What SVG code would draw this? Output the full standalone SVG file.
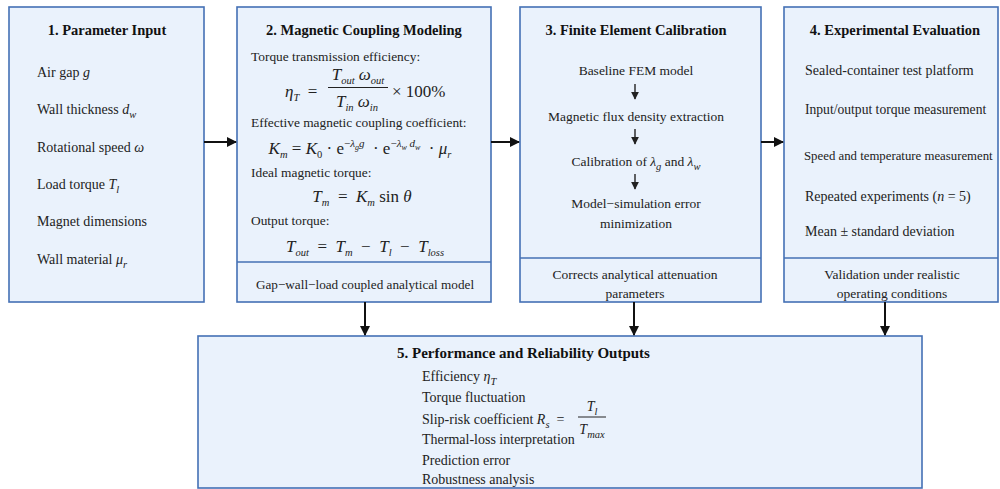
<svg xmlns="http://www.w3.org/2000/svg" width="1000" height="489" viewBox="0 0 1000 489">
<defs>
<marker id="ah" viewBox="0 0 10 10" refX="9" refY="5" markerWidth="10" markerHeight="10" markerUnits="userSpaceOnUse" orient="auto"><path d="M0,0 L10,5 L0,10 z" fill="#111"/></marker>
<marker id="ahs" viewBox="0 0 10 10" refX="9" refY="5" markerWidth="8" markerHeight="8" markerUnits="userSpaceOnUse" orient="auto"><path d="M0,0 L10,5 L0,10 z" fill="#222"/></marker>
<style>
.box{fill:#EAF2FC;stroke:#4470B5;stroke-width:1.6}
.div{stroke:#4470B5;stroke-width:1.4}
text{font-family:"Liberation Serif","Times New Roman",serif;font-size:14px;fill:#222}
.h{font-weight:bold;font-size:14.5px;fill:#111}
.h5{font-weight:bold;font-size:15px;fill:#111}
.b2{font-size:13.4px}
.b3{font-size:13.5px}
.i{font-style:italic}
.sub{font-size:10.5px}
.m{font-size:17px}
.sup{font-size:11px}
.ssub{font-size:8px}
.c{text-anchor:middle}
.con{stroke:#111;stroke-width:2;fill:none}
.sm{stroke:#222;stroke-width:1.4;fill:none}
</style>
</defs>
<g id="node1">
<rect class="box" x="9" y="7" width="195" height="295"/>
<text class="h c" x="107" y="35">1. Parameter Input</text>
<text x="37" y="77">Air gap <tspan class="i">g</tspan></text>
<text x="37" y="114">Wall thickness <tspan class="i">d</tspan><tspan class="i sub" dy="4">w</tspan></text>
<text x="37" y="152">Rotational speed <tspan class="i">ω</tspan></text>
<text x="37" y="189">Load torque <tspan class="i">T</tspan><tspan class="i sub" dy="4">l</tspan></text>
<text x="37" y="226">Magnet dimensions</text>
<text x="37" y="264">Wall material <tspan class="i">μ</tspan><tspan class="i sub" dy="4">r</tspan></text>
</g>
<g id="node2">
<rect class="box" x="237" y="7" width="254" height="295"/>
<line class="div" x1="237" y1="262" x2="491" y2="262"/>
<text class="h c" x="364" y="35">2. Magnetic Coupling Modeling</text>
<text class="b2" x="251" y="61">Torque transmission efficiency:</text>
<text class="m" x="285" y="97" xml:space="preserve"><tspan class="i">η</tspan><tspan class="i sub" dy="4">T</tspan><tspan dy="-4">  =</tspan></text>
<text class="m c" x="358" y="80"><tspan class="i">T</tspan><tspan class="i sub" dy="4">out</tspan><tspan class="i" dy="-4"> ω</tspan><tspan class="i sub" dy="4">out</tspan></text>
<line x1="328" y1="87.5" x2="388" y2="87.5" stroke="#222" stroke-width="1"/>
<text class="m c" x="357" y="107"><tspan class="i">T</tspan><tspan class="i sub" dy="4">in</tspan><tspan class="i" dy="-4"> ω</tspan><tspan class="i sub" dy="4">in</tspan></text>
<text class="m" x="392" y="97">× 100%</text>
<text class="b2" x="251" y="127">Effective magnetic coupling coefficient:</text>
<text class="m c" x="360" y="154" xml:space="preserve"><tspan class="i">K</tspan><tspan class="sub i" dy="4">m</tspan><tspan dy="-4"> = </tspan><tspan class="i">K</tspan><tspan class="sub" dy="4">0</tspan><tspan dy="-4"> · e</tspan><tspan class="sup" dy="-7">−</tspan><tspan class="sup i">λ</tspan><tspan class="ssub i" dy="3">g</tspan><tspan class="sup i" dy="-3">g</tspan><tspan dy="7">  · e</tspan><tspan class="sup" dy="-7">−</tspan><tspan class="sup i">λ</tspan><tspan class="ssub i" dy="3">w</tspan><tspan class="sup i" dy="-3"> d</tspan><tspan class="ssub i" dy="3">w</tspan><tspan dy="4">  · </tspan><tspan class="i">μ</tspan><tspan class="sub i" dy="4">r</tspan></text>
<text class="b2" x="251" y="177">Ideal magnetic torque:</text>
<text class="m c" x="362" y="202" xml:space="preserve"><tspan class="i">T</tspan><tspan class="sub i" dy="4">m</tspan><tspan dy="-4">  =  </tspan><tspan class="i">K</tspan><tspan class="sub i" dy="4">m</tspan><tspan dy="-4"> sin </tspan><tspan class="i">θ</tspan></text>
<text class="b2" x="251" y="225">Output torque:</text>
<text class="m c" x="365" y="252" xml:space="preserve"><tspan class="i">T</tspan><tspan class="sub i" dy="4">out</tspan><tspan dy="-4">  =  </tspan><tspan class="i">T</tspan><tspan class="sub i" dy="4">m</tspan><tspan dy="-4">  −  </tspan><tspan class="i">T</tspan><tspan class="sub i" dy="4">l</tspan><tspan dy="-4">  −  </tspan><tspan class="i">T</tspan><tspan class="sub i" dy="4">loss</tspan></text>
<text class="c" x="365" y="289" style="font-size:13.2px">Gap−wall−load coupled analytical model</text>
</g>
<g id="node3">
<rect class="box" x="520" y="7" width="241" height="295"/>
<line class="div" x1="520" y1="258" x2="761" y2="258"/>
<text class="h c" x="636" y="35">3. Finite Element Calibration</text>
<text class="b3 c" x="636" y="75">Baseline FEM model</text>
<line class="sm" x1="635" y1="84" x2="635" y2="99" marker-end="url(#ahs)"/>
<text class="b3 c" x="636" y="121">Magnetic flux density extraction</text>
<line class="sm" x1="635" y1="129" x2="635" y2="144" marker-end="url(#ahs)"/>
<text class="b3 c" x="636" y="166">Calibration of <tspan class="i">λ</tspan><tspan class="sub i" dy="4">g</tspan><tspan dy="-4"> and </tspan><tspan class="i">λ</tspan><tspan class="sub i" dy="4">w</tspan></text>
<line class="sm" x1="635" y1="174" x2="635" y2="189" marker-end="url(#ahs)"/>
<text class="b3 c" x="636" y="208">Model−simulation error</text>
<text class="b3 c" x="636" y="228">minimization</text>
<text class="b3 c" x="635" y="279">Corrects analytical attenuation</text>
<text class="b3 c" x="635" y="298">parameters</text>
</g>
<g id="node4">
<rect class="box" x="784" y="7" width="214" height="295"/>
<line class="div" x1="784" y1="258" x2="998" y2="258"/>
<text class="h c" x="895" y="35">4. Experimental Evaluation</text>
<text x="805" y="75">Sealed-container test platform</text>
<text x="805" y="114" style="font-size:13.6px">Input/output torque measurement</text>
<text x="804" y="160" style="font-size:12.8px">Speed and temperature measurement</text>
<text x="805" y="201">Repeated experiments (<tspan class="i">n</tspan> = 5)</text>
<text x="805" y="236">Mean ± standard deviation</text>
<text class="b3 c" x="892" y="279">Validation under realistic</text>
<text class="b3 c" x="892" y="298">operating conditions</text>
</g>
<g id="node5">
<rect class="box" x="198" y="336" width="724" height="152"/>
<text class="h5" x="397" y="358">5. Performance and Reliability Outputs</text>
<text x="422" y="381">Efficiency <tspan class="i">η</tspan><tspan class="i sub" dy="4">T</tspan></text>
<text x="422" y="402">Torque fluctuation</text>
<text x="422" y="424" xml:space="preserve">Slip-risk coefficient <tspan class="i">R</tspan><tspan class="i sub" dy="4">s</tspan><tspan dy="-4">  =</tspan></text>
<text class="c" x="592" y="411"><tspan class="i">T</tspan><tspan class="i sub" dy="4">l</tspan></text>
<line x1="578" y1="417" x2="606" y2="417" stroke="#222" stroke-width="1"/>
<text class="c" x="592" y="434"><tspan class="i">T</tspan><tspan class="i sub" dy="4">max</tspan></text>
<text x="422" y="444">Thermal-loss interpretation</text>
<text x="422" y="465">Prediction error</text>
<text x="422" y="484">Robustness analysis</text>
</g>
<g id="connectors">
<line class="con" x1="204" y1="142" x2="236" y2="142" marker-end="url(#ah)"/>
<line class="con" x1="491" y1="142" x2="519" y2="142" marker-end="url(#ah)"/>
<line class="con" x1="761" y1="142" x2="783" y2="142" marker-end="url(#ah)"/>
<line class="con" x1="365" y1="302" x2="365" y2="335" marker-end="url(#ah)"/>
<line class="con" x1="634" y1="302" x2="634" y2="335" marker-end="url(#ah)"/>
<line class="con" x1="885" y1="302" x2="885" y2="335" marker-end="url(#ah)"/>
</g>
</svg>
